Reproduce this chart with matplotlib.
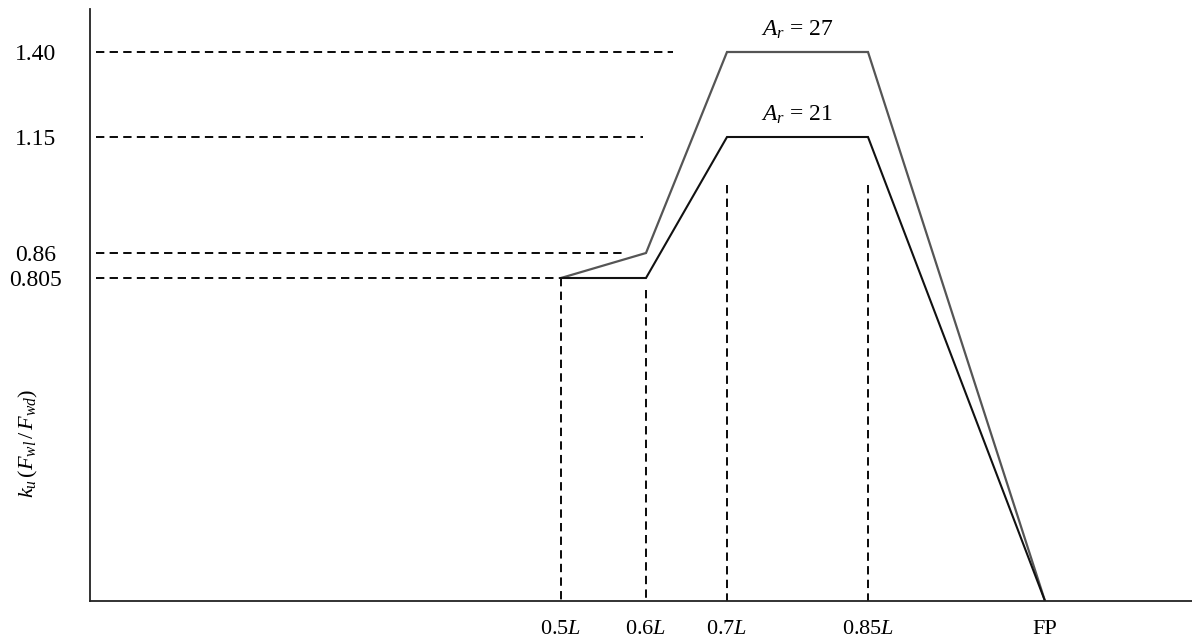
import numpy as np
import matplotlib
matplotlib.use("Agg")
import matplotlib.pyplot as plt

plt.rcParams['font.family'] = ['Liberation Serif', 'DejaVu Serif']
plt.rcParams['mathtext.fontset'] = 'custom'
plt.rcParams['mathtext.rm'] = 'Liberation Serif'
plt.rcParams['mathtext.it'] = 'Liberation Serif:italic'
plt.rcParams['lines.scale_dashes'] = False

# ---- data ----
x_points = [0.5, 0.6, 0.7, 0.85, 1.0]          # 0.5L, 0.6L, 0.7L, 0.85L, FP
x_labels = ['0.5$L$', '0.6$L$', '0.7$L$', '0.85$L$', 'FP']
ku_ar27 = [0.805, 0.86, 1.40, 1.40, 0.0]
ku_ar21 = [0.805, 0.805, 1.15, 1.15, 0.0]
y_levels = [1.40, 1.15, 0.86, 0.805]
y_labels = ['1.40', '1.15', '0.86', '0.805']
series_names = ['$A_r$ = 27', '$A_r$ = 21']

# ---- schematic (non-linear) axis scales ----
X_KNOTS = [0.0, 0.5, 0.6, 0.7, 0.85, 1.0, 1.2]
X_POS = [90, 561, 646, 727, 868, 1045, 1192]
Y_KNOTS = [0.0, 0.805, 0.86, 1.15, 1.40, 1.6]
Y_POS = [42, 365, 390, 506, 591, 634]

def fx(v):
    return np.interp(v, X_KNOTS, X_POS)
def ifx(v):
    return np.interp(v, X_POS, X_KNOTS)
def fy(v):
    return np.interp(v, Y_KNOTS, Y_POS)
def ify(v):
    return np.interp(v, Y_POS, Y_KNOTS)

W, H = 1192, 643
fig = plt.figure(figsize=(W / 100, H / 100), dpi=100)
ax = fig.add_axes([90 / W, 42 / H, (1192 - 90) / W, (601 - 9) / H])
ax.set_xscale('function', functions=(fx, ifx))
ax.set_yscale('function', functions=(fy, ify))
ax.set_xlim(0.0, 1.2)
ax.set_ylim(0.0, 1.6)

dash = (0, (6, 3.8))
# horizontal reference dashes (end positions are layout)
h_ends = [0.633, 0.596, 0.573, 0.5]
for yv, xe in zip(y_levels, h_ends):
    ax.plot([0.006, xe], [yv, yv], color='black', lw=1.35, linestyle=dash)

# vertical reference dashes (top positions are layout)
v_tops = [0.805, 0.775, 1.03, 1.03]
for xv, yt in zip(x_points[:4], v_tops):
    ax.plot([xv, xv], [yt, 0.0], color='black', lw=1.35, linestyle=dash)

ax.plot(x_points, ku_ar27, color='#555555', lw=1.6, solid_joinstyle='miter')
ax.plot(x_points, ku_ar21, color='#111111', lw=1.5, solid_joinstyle='miter')

xmid = (x_points[2] + x_points[3]) / 2
ax.annotate(series_names[0], (xmid, ku_ar27[2]), xytext=(0, 8), textcoords='offset points',
            ha='center', va='bottom', fontsize=17)
ax.annotate(series_names[1], (xmid, ku_ar21[2]), xytext=(0, 8), textcoords='offset points',
            ha='center', va='bottom', fontsize=17)

ax.set_xticks(x_points)
ax.set_xticklabels(x_labels, fontsize=16)
ax.set_yticks(y_levels)
ax.set_yticklabels(y_labels, fontsize=17)
ax.tick_params(axis='both', length=0)
ax.tick_params(axis='x', pad=14)
ax.tick_params(axis='y', pad=39)
for lab in ax.get_yticklabels():
    lab.set_horizontalalignment('center')

ax.set_ylabel('$k_u\\,(F_{wl}\\,/\\,F_{wd})$', fontsize=16)
ax.yaxis.set_label_coords(-0.045, 0.267)

for s in ['top', 'right']:
    ax.spines[s].set_visible(False)
for s in ['left', 'bottom']:
    ax.spines[s].set_linewidth(1.3)
    ax.spines[s].set_color('#222222')

fig.savefig('out.png', dpi=100)
